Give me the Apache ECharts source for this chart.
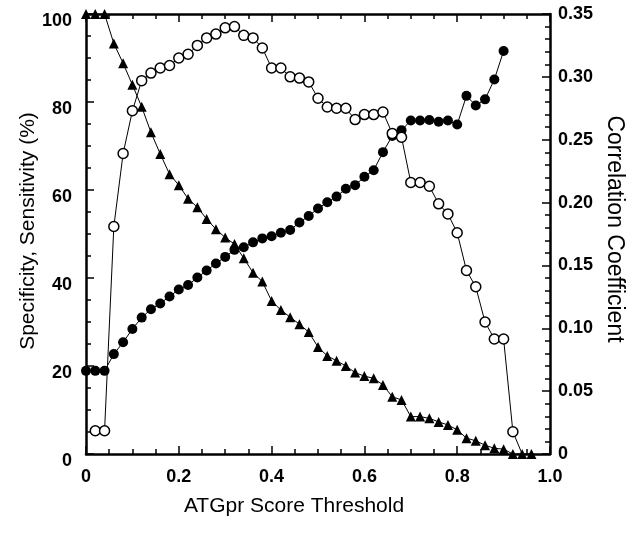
<!DOCTYPE html>
<html>
<head>
<meta charset="utf-8">
<script src="https://cdn.jsdelivr.net/npm/echarts@6/dist/echarts.min.js"></script>
<style>
html,body{margin:0;padding:0;background:#fff;}
#chart{width:637px;height:533px;}
</style>
</head>
<body>
<div id="chart"></div>
<script>
// ATGpr score thresholds
var thresholds = [0,0.02,0.04,0.06,0.08,0.10,0.12,0.14,0.16,0.18,0.20,0.22,0.24,0.26,0.28,0.30,0.32,0.34,0.36,0.38,0.40,0.42,0.44,0.46,0.48,0.50,0.52,0.54,0.56,0.58,0.60,0.62,0.64,0.66,0.68,0.70,0.72,0.74,0.76,0.78,0.80,0.82,0.84,0.86,0.88,0.90,0.92,0.94,0.96];
// Specificity (%) – filled circles, thresholds 0 … 0.90
var specificity = [18.9,18.9,18.9,22.7,25.4,28.4,31.0,32.9,34.2,35.8,37.4,38.4,40.1,41.7,43.3,44.8,46.4,47.0,48.1,49.0,49.5,50.3,50.9,52.6,54.1,55.8,57.2,58.5,60.3,61.1,63.0,64.5,68.6,72.3,73.6,75.8,75.8,75.9,75.5,75.8,74.9,81.4,79.2,80.6,85.1,91.6];
// Sensitivity (%) – filled triangles, thresholds 0 … 0.96
var sensitivity = [100,100,100,93.3,88.8,83.9,78.9,73.1,68.2,63.6,61.1,58.0,56.1,53.4,51.1,49.2,47.7,44.5,41.2,39.2,34.8,32.7,31.1,29.5,27.7,24.3,22.3,21.2,20.0,18.5,17.7,17.2,15.7,13.0,12.3,8.5,8.5,8.1,7.3,6.6,5.5,3.6,3.0,2.0,1.3,1.1,0,0,0];
// Correlation coefficient – open circles, thresholds 0.02 … 0.94 (last point has no marker)
var corrStart = 1;
var correlation = [0.0185,0.0185,0.181,0.239,0.273,0.297,0.303,0.307,0.309,0.315,0.318,0.325,0.331,0.334,0.339,0.340,0.333,0.331,0.323,0.307,0.307,0.300,0.299,0.296,0.283,0.276,0.275,0.275,0.266,0.270,0.270,0.272,0.255,0.252,0.216,0.216,0.213,0.199,0.191,0.176,0.146,0.133,0.105,0.0915,0.0915,0.0177,0];
// tick labels
var xTicks = ['0','0.2','0.4','0.6','0.8','1.0'];
var leftTicks = ['0','20','40','60','80','100'];
var rightTicks = ['0','0.05','0.10','0.15','0.20','0.25','0.30','0.35'];

function pairs(xs, ys, offset){
  var out=[];
  for(var i=0;i<ys.length;i++){ out.push([xs[i+offset], ys[i]]); }
  return out;
}
var corrData = pairs(thresholds, correlation, corrStart).map(function(p, i, arr){
  return i === arr.length-1 ? {value:p, symbol:'none'} : p;
});

var FONT = 'Liberation Sans, Arial, Helvetica, sans-serif';
var labelStyle = {fontFamily:FONT, fontWeight:'bold', fontSize:18, color:'#000'};
var axisLine = {show:true, onZero:false, lineStyle:{color:'#000', width:2.5}};

var chart = echarts.init(document.getElementById('chart'), null, {renderer:'canvas'});
chart.setOption({
  animation:false,
  backgroundColor:'#fff',
  grid:{left:86, right:87, top:14, bottom:79},
  xAxis:[{
    type:'value', min:0, max:1, interval:0.2, position:'bottom',
    axisLine:axisLine,
    axisTick:{show:true, inside:true, length:8, lineStyle:{color:'#000', width:1.5}},
    minorTick:{show:true, splitNumber:4, length:5, lineStyle:{color:'#000', width:1.5}},
    splitLine:{show:false},
    axisLabel:Object.assign({margin:14, formatter:function(v){ return xTicks[Math.round(v/0.2)]; }}, labelStyle)
  },{
    type:'value', min:0, max:1, interval:0.2, position:'top',
    axisLine:axisLine,
    axisTick:{show:true, inside:true, length:8, lineStyle:{color:'#000', width:1.5}},
    minorTick:{show:true, splitNumber:4, length:5, lineStyle:{color:'#000', width:1.5}},
    splitLine:{show:false},
    axisLabel:{show:false}
  }],
  yAxis:[{
    type:'value', min:0, max:100, interval:20, position:'left',
    axisLine:axisLine,
    axisTick:{show:true, inside:true, length:8, lineStyle:{color:'#000', width:1.5}},
    minorTick:{show:true, splitNumber:4, length:5, lineStyle:{color:'#000', width:1.5}},
    splitLine:{show:false},
    axisLabel:Object.assign({margin:14, verticalAlign:'top', lineHeight:15, formatter:function(v){ return leftTicks[Math.round(v/20)]; }}, labelStyle)
  },{
    type:'value', min:0, max:0.35, interval:0.05, position:'right',
    axisLine:axisLine,
    axisTick:{show:true, inside:true, length:8, lineStyle:{color:'#000', width:1.5}},
    minorTick:{show:true, splitNumber:5, length:5, lineStyle:{color:'#000', width:1.5}},
    splitLine:{show:false},
    axisLabel:Object.assign({margin:8, formatter:function(v){ return rightTicks[Math.round(v/0.05)]; }}, labelStyle)
  }],
  graphic:[
    {type:'text', x:294, y:506, style:{text:'ATGpr Score Threshold', font:'21px '+FONT, fill:'#000', textAlign:'center', textVerticalAlign:'middle'}},
    {type:'text', rotation:Math.PI/2, x:28, y:231, style:{text:'Specificity, Sensitivity (%)', font:'21px '+FONT, fill:'#000', textAlign:'center', textVerticalAlign:'middle'}},
    {type:'text', rotation:-Math.PI/2, x:614, y:229, style:{text:'Correlation Coefficient', font:'23px '+FONT, fill:'#000', textAlign:'center', textVerticalAlign:'middle'}}
  ],
  series:[{
    name:'Specificity', type:'line', xAxisIndex:0, yAxisIndex:0, z:2,
    data:pairs(thresholds, specificity, 0),
    symbol:'circle', symbolSize:10,
    lineStyle:{color:'#000', width:1},
    itemStyle:{color:'#000', borderColor:'#000', borderWidth:0}
  },{
    name:'Sensitivity', type:'line', xAxisIndex:0, yAxisIndex:0, z:3,
    data:pairs(thresholds, sensitivity, 0),
    symbol:'triangle', symbolSize:[10,10],
    lineStyle:{color:'#000', width:1},
    itemStyle:{color:'#000', borderColor:'#000', borderWidth:0}
  },{
    name:'Correlation', type:'line', xAxisIndex:0, yAxisIndex:1, z:4,
    data:corrData,
    symbol:'circle', symbolSize:10,
    lineStyle:{color:'#000', width:1},
    itemStyle:{color:'#fff', borderColor:'#000', borderWidth:1.5}
  }]
});
</script>
</body>
</html>
